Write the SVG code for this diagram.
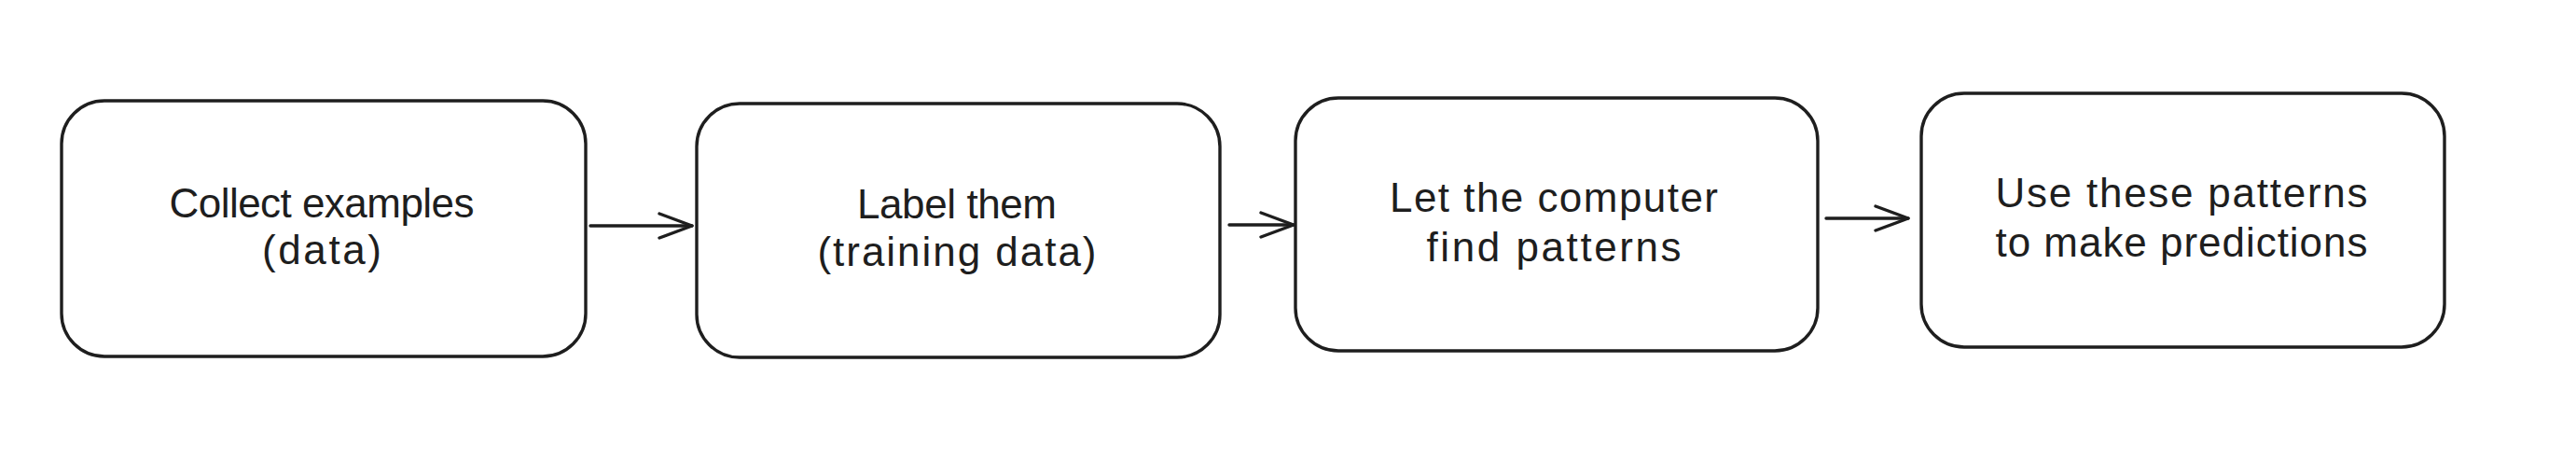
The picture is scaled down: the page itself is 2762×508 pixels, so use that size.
<svg xmlns="http://www.w3.org/2000/svg" width="2762" height="508" viewBox="0 0 2762 508">
<style>
.box{fill:#ffffff;stroke:#1e1e1e;stroke-width:3.4;}
.lbl{font-family:"Liberation Sans",Arial,sans-serif;font-size:44px;fill:#1e1e1e;text-anchor:middle;}
.edge{fill:none;stroke:#1e1e1e;stroke-width:3.4;stroke-linecap:round;}
</style>
<defs>
<marker id="arr" markerUnits="userSpaceOnUse" viewBox="-40 -16 44 32" refX="0" refY="0" markerWidth="44" markerHeight="32" orient="auto" overflow="visible">
<path d="M-35,-13 L0,0 L-35,13" fill="none" stroke="#1e1e1e" stroke-width="3.4" stroke-linecap="round" stroke-linejoin="round"/>
</marker>
</defs>
<rect width="2762" height="508" fill="#ffffff"/>
<g id="connectors">
<path class="edge" d="M633,242 L742,242" marker-end="url(#arr)"/>
<path class="edge" d="M1318,241 L1387,241" marker-end="url(#arr)"/>
<path class="edge" d="M1958,234 L2046,234" marker-end="url(#arr)"/>
</g>
<g id="node-collect">
<rect class="box" x="66" y="108" width="562" height="274" rx="46"/>
<text class="lbl" x="345" y="233" textLength="327">Collect examples</text>
<text class="lbl" x="345" y="283" textLength="128">(data)</text>
</g>
<g id="node-label">
<rect class="box" x="747" y="111" width="561" height="272" rx="46"/>
<text class="lbl" x="1026" y="234" textLength="214">Label them</text>
<text class="lbl" x="1026" y="285" textLength="299">(training data)</text>
</g>
<g id="node-find">
<rect class="box" x="1389" y="105" width="560" height="271" rx="46"/>
<text class="lbl" x="1666" y="227" textLength="352">Let the computer</text>
<text class="lbl" x="1666" y="280" textLength="273">find patterns</text>
</g>
<g id="node-predict">
<rect class="box" x="2060" y="100" width="561" height="272" rx="46"/>
<text class="lbl" x="2339" y="222" textLength="399">Use these patterns</text>
<text class="lbl" x="2339" y="275" textLength="399">to make predictions</text>
</g>
</svg>
